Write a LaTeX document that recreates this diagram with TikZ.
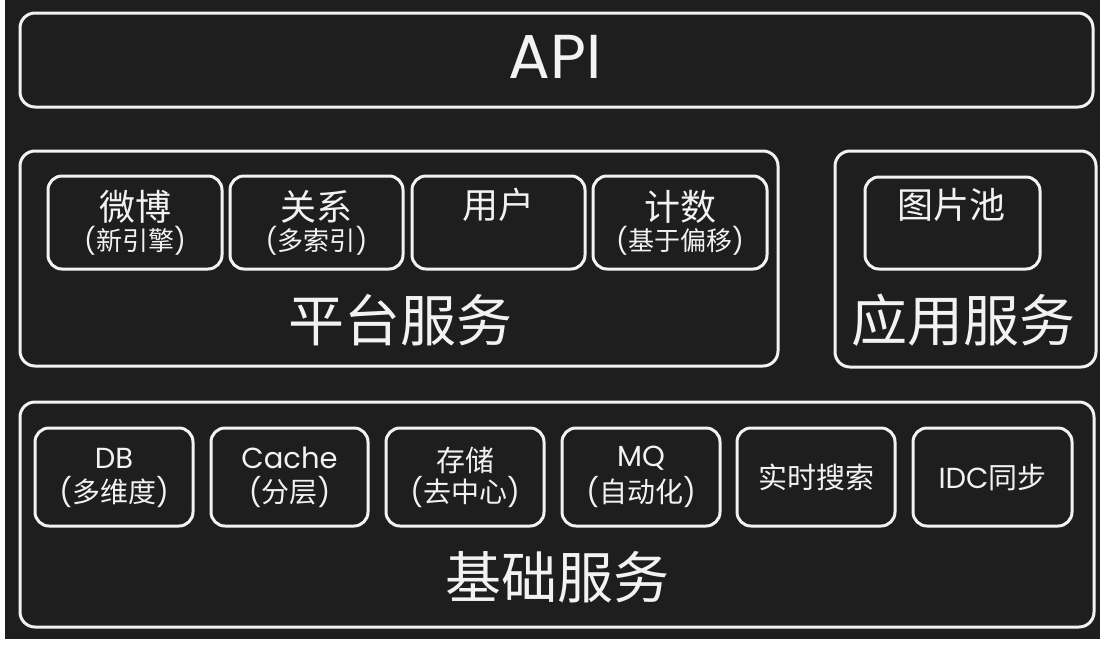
\documentclass[tikz,border=0pt]{standalone}
\usepackage{fontspec}
\setmainfont{Noto Sans CJK SC}
\newfontfamily\lat{Poppins}
\definecolor{bgdark}{HTML}{1E1E1E}
\definecolor{linew}{HTML}{F2F2F2}
\tikzset{
  x=1pt, y=-1pt,
  obox/.style={draw=linew, line width=3pt, rounded corners=15pt, inner sep=0pt},
  ibox/.style={draw=linew, line width=3pt, rounded corners=14pt, inner sep=0pt},
  bigtxt/.style={text=linew, font=\fontsize{56}{60}\selectfont, inner sep=0pt},
  apitxt/.style={text=linew, font=\lat\fontsize{62}{66}\selectfont, inner sep=0pt},
  ttl/.style={text=linew, font=\fontsize{36}{40}\selectfont, inner sep=0pt},
  sub/.style={text=linew, font=\fontsize{26}{30}\selectfont, inner sep=0pt},
  bttl/.style={text=linew, font=\fontsize{29}{32}\selectfont, inner sep=0pt},
  bsub/.style={text=linew, font=\fontsize{28}{32}\selectfont, inner sep=0pt},
}
\begin{document}
\begin{tikzpicture}
\useasboundingbox[fill=white] (0,0) rectangle (1107,646);
\fill[bgdark] (5,0) rectangle (1100,639);

% API
\node[obox, minimum width=1073, minimum height=94] (api) at (556.5,60) {};
\node[apitxt] (apit) at (555,57) {API};

% Platform services
\node[obox, minimum width=758, minimum height=215] (plat) at (399,258.5) {};
\node[ibox, minimum width=174, minimum height=93] (weibo) at (135,222.5) {};
\node[ttl] (weibot) at (135,207) {微博};
\node[sub] (weibos) at (135,241) {{\lat(}新引擎{\lat)}};
\node[ibox, minimum width=173, minimum height=93] (guanxi) at (316.5,222.5) {};
\node[ttl] (guanxit) at (316.5,207) {关系};
\node[sub] (guanxis) at (316.5,241) {{\lat(}多索引{\lat)}};
\node[ibox, minimum width=173, minimum height=93] (yonghu) at (498.5,222.5) {};
\node[ttl] (yonghut) at (498.5,205) {用户};
\node[ibox, minimum width=174, minimum height=93] (jishu) at (680,222.5) {};
\node[ttl] (jishut) at (680,207) {计数};
\node[sub] (jishus) at (680,241) {{\lat(}基于偏移{\lat)}};
\node[bigtxt] (platt) at (400,320) {平台服务};

% Application services
\node[obox, minimum width=261, minimum height=216] (app) at (965.5,259) {};
\node[ibox, minimum width=175, minimum height=92] (tupian) at (952.5,223) {};
\node[ttl] (tupiant) at (951,205) {图片池};
\node[bigtxt] (appt) at (963,320) {应用服务};

% Base services
\node[obox, minimum width=1074, minimum height=225] (base) at (557,514.5) {};
\node[ibox, minimum width=158, minimum height=98] (db) at (114,477) {};
\node[bttl] (dbt) at (114,458) {\lat DB};
\node[bsub] (dbs) at (114,492) {{\lat(}多维度{\lat)}};
\node[ibox, minimum width=157, minimum height=98] (cache) at (289.5,477) {};
\node[bttl] (cachet) at (289.5,458) {\lat Cache};
\node[bsub] (caches) at (289.5,492) {{\lat(}分层{\lat)}};
\node[ibox, minimum width=158, minimum height=98] (cunchu) at (465,477) {};
\node[bttl] (cunchut) at (465,460) {存储};
\node[bsub] (cunchus) at (465,492) {{\lat(}去中心{\lat)}};
\node[ibox, minimum width=158, minimum height=98] (mq) at (641,477) {};
\node[bttl] (mqt) at (641,458) {\lat MQ};
\node[bsub] (mqs) at (641,492) {{\lat(}自动化{\lat)}};
\node[ibox, minimum width=158, minimum height=98] (search) at (816,477) {};
\node[bttl] (searcht) at (816,477) {实时搜索};
\node[ibox, minimum width=159, minimum height=98] (idc) at (992.5,477) {};
\node[bttl] (idct) at (992.5,477) {{\lat IDC}同步};
\node[bigtxt] (baset) at (557,577) {基础服务};
\end{tikzpicture}
\end{document}
